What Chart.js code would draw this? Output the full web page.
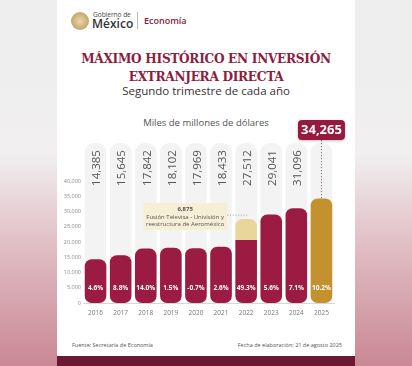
<!DOCTYPE html>
<html><head><meta charset="utf-8">
<script src="https://cdn.jsdelivr.net/npm/chart.js@4/dist/chart.umd.min.js"></script>
<style>
html,body{margin:0;padding:0;}
body{width:412px;height:366px;overflow:hidden;position:relative;font-family:"Open Sans",sans-serif;
 background:linear-gradient(180deg,#eeeeee 0%,#f1eff0 42%,#e0bcc3 68%,#c98893 100%);}
#card{position:absolute;left:57px;top:0;width:298px;height:356px;background:#fff;}
#strip{position:absolute;left:57px;top:356px;width:298px;height:10px;background:#6b1834;}
.t{position:absolute;white-space:nowrap;}
.c{left:57px;width:298px;text-align:center;}
.ttl{font-family:'DejaVu Serif',serif;font-weight:bold;font-size:13.5px;line-height:16px;color:#8c1d40;font-stretch:condensed;letter-spacing:-0.3px;}
#emblem{position:absolute;left:71px;top:12px;width:18px;height:18px;border-radius:50%;
 background:radial-gradient(circle at 50% 50%,#e8d7a8 0%,#cdb27a 55%,#b08f52 100%);}
#sep{position:absolute;left:137px;top:12px;width:1px;height:17px;background:#bbb;}
canvas#c{position:absolute;left:0;top:0;}
</style></head>
<body>
<div id="card"></div>
<div id="strip"></div>
<div id="emblem"></div>
<div class="t" style="left:93px;top:11px;font-size:6.5px;line-height:8px;color:#444;">Gobierno de</div>
<div class="t" style="left:92px;top:17px;font-size:12px;line-height:14px;color:#333;font-weight:600;">México</div>
<div id="sep"></div>
<div class="t" style="left:144px;top:15px;font-size:9px;line-height:12px;color:#7b1f3a;font-weight:600;">Economía</div>
<div class="t c ttl" style="top:50px;">MÁXIMO HISTÓRICO EN INVERSIÓN</div>
<div class="t c ttl" style="top:68px;">EXTRANJERA DIRECTA</div>
<div class="t c" style="top:83px;font-size:11.5px;line-height:16px;color:#333;">Segundo trimestre de cada año</div>
<div class="t c" style="top:116px;font-size:9.5px;line-height:14px;color:#555;">Miles de millones de dólares</div>
<div class="t" style="left:72px;top:341px;font-size:5.5px;line-height:8px;color:#555;">Fuente: Secretaría de Economía</div>
<div class="t" style="left:57px;width:285px;text-align:right;top:341px;font-size:5.5px;line-height:8px;color:#555;">Fecha de elaboración: 21 de agosto 2025</div>
<canvas id="c" width="412" height="366"></canvas>
<script>
const years = ['2016','2017','2018','2019','2020','2021','2022','2023','2024','2025'];
const totals = [14385,15645,17842,18102,17969,18433,27512,29041,31096,34265];
const extraValues = [null,null,null,null,null,null,6875,null,null,null];
const growth = ['4.6%','8.8%','14.0%','1.5%','-0.7%','2.6%','49.3%','5.6%','7.1%','10.2%'];
const annotationLines = ['6,875','Fusión Televisa - Univisión y','reestructura de Aeroméxico'];
const highlightIndex = 9;
const yMax = 40000, yStep = 5000;

const MAROON = '#9c1b42', GOLD = '#c3922f', BEIGE = '#e8d69d';
const baseData = totals.map((t,i)=> t - (extraValues[i]||0));
const extraData = extraValues.map((e,i)=> e==null ? null : [totals[i]-e, totals[i]]);
const fmt = v => v.toLocaleString('en-US');

const deco = {
  id:'deco',
  beforeDatasetsDraw(chart){
    const ctx = chart.ctx, meta = chart.getDatasetMeta(0), area = chart.chartArea;
    ctx.save();
    ctx.fillStyle = '#f3f3f3';
    meta.data.forEach(b=>{
      ctx.beginPath();
      ctx.roundRect(b.x - b.width/2, 143, b.width, area.bottom - 143, 9);
      ctx.fill();
    });
    ctx.restore();
  },
  afterDatasetsDraw(chart){
    const ctx = chart.ctx, meta = chart.getDatasetMeta(0), area = chart.chartArea;
    const ys = chart.scales.y;
    ctx.save();
    meta.data.forEach((b,i)=>{
      if(i===highlightIndex) return;
      ctx.save();
      ctx.translate(b.x+1.5, 168);
      ctx.rotate(-Math.PI/2);
      ctx.fillStyle = '#555';
      ctx.font = '11.5px "Open Sans"';
      ctx.textAlign='center'; ctx.textBaseline='middle';
      ctx.fillText(fmt(totals[i]),0,0);
      ctx.restore();
    });
    ctx.fillStyle = '#fff';
    ctx.font = 'bold 6.5px "Open Sans"';
    ctx.textAlign='center'; ctx.textBaseline='middle';
    meta.data.forEach((b,i)=>{ ctx.fillText(growth[i], b.x, area.bottom - 15); });
    const ai = extraValues.findIndex(v=>v!=null);
    const ab = meta.data[ai];
    const topY = ys.getPixelForValue(totals[ai]);
    const bx2 = ab.x - 19, bw = 84, by = topY - 16, bh = 27;
    ctx.fillStyle = '#f6eed6';
    ctx.fillRect(bx2 - bw, by, bw, bh);
    ctx.fillStyle = '#555';
    ctx.font = 'bold 6px "Open Sans"';
    ctx.fillText(annotationLines[0], bx2 - bw/2, by + 6.5);
    ctx.font = '6px "Open Sans"';
    ctx.fillText(annotationLines[1], bx2 - bw/2, by + 14.5);
    ctx.fillText(annotationLines[2], bx2 - bw/2, by + 21.5);
    ctx.strokeStyle = '#999'; ctx.lineWidth = 0.8; ctx.setLineDash([1.2,1.5]);
    ctx.beginPath(); ctx.moveTo(bx2, topY-4); ctx.lineTo(ab.x+1, topY-4); ctx.stroke();
    const hb = meta.data[highlightIndex];
    const hy = ys.getPixelForValue(totals[highlightIndex]);
    ctx.strokeStyle = '#8a6a70'; ctx.lineWidth = 1; ctx.setLineDash([1.2,1.8]);
    ctx.beginPath(); ctx.moveTo(hb.x, 140); ctx.lineTo(hb.x, hy); ctx.stroke();
    ctx.setLineDash([]);
    ctx.shadowColor='rgba(0,0,0,0.25)'; ctx.shadowBlur=3; ctx.shadowOffsetY=1;
    ctx.fillStyle = '#951a3e';
    ctx.beginPath(); ctx.roundRect(hb.x - 23.5, 120, 47, 20, 4); ctx.fill();
    ctx.shadowColor='transparent';
    ctx.fillStyle = '#fff';
    ctx.font = 'bold 13px "Open Sans"';
    ctx.fillText(fmt(totals[highlightIndex]), hb.x, 130.5);
    ctx.restore();
  }
};

new Chart(document.getElementById('c'), {
  type:'bar',
  data:{
    labels: years,
    datasets:[
      { data: baseData,
        backgroundColor: years.map((y,i)=> i===highlightIndex ? GOLD : MAROON),
        borderRadius: c => extraValues[c.dataIndex]!=null ? {topLeft:0,topRight:0,bottomLeft:7,bottomRight:7} : 7,
        borderSkipped:false, categoryPercentage:1, barPercentage:0.86 },
      { data: extraData, backgroundColor: BEIGE,
        borderRadius:{topLeft:7,topRight:7,bottomLeft:0,bottomRight:0},
        borderSkipped:false, categoryPercentage:1, barPercentage:0.86 }
    ]
  },
  options:{
    responsive:false, animation:false,
    layout:{padding:{left:57, right:78, top:181, bottom:47}},
    plugins:{legend:{display:false}, tooltip:{enabled:false}},
    scales:{
      x:{ stacked:true, grid:{display:false, drawTicks:false},
          border:{color:'#d6d6d6'},
          ticks:{font:{size:6.5, family:'"Open Sans"'}, color:'#777', padding:6},
          afterFit(s){ s.height = 16; } },
      y:{ min:0, max:yMax, grid:{display:false, drawTicks:false}, border:{display:false},
          ticks:{stepSize:yStep, font:{size:5.5, family:'"Open Sans"'}, color:'#8a8a8a', padding:2,
                 callback:v=>fmt(v)},
          afterFit(s){ s.width = 26; } }
    }
  },
  plugins:[deco]
});
</script>
</body></html>
